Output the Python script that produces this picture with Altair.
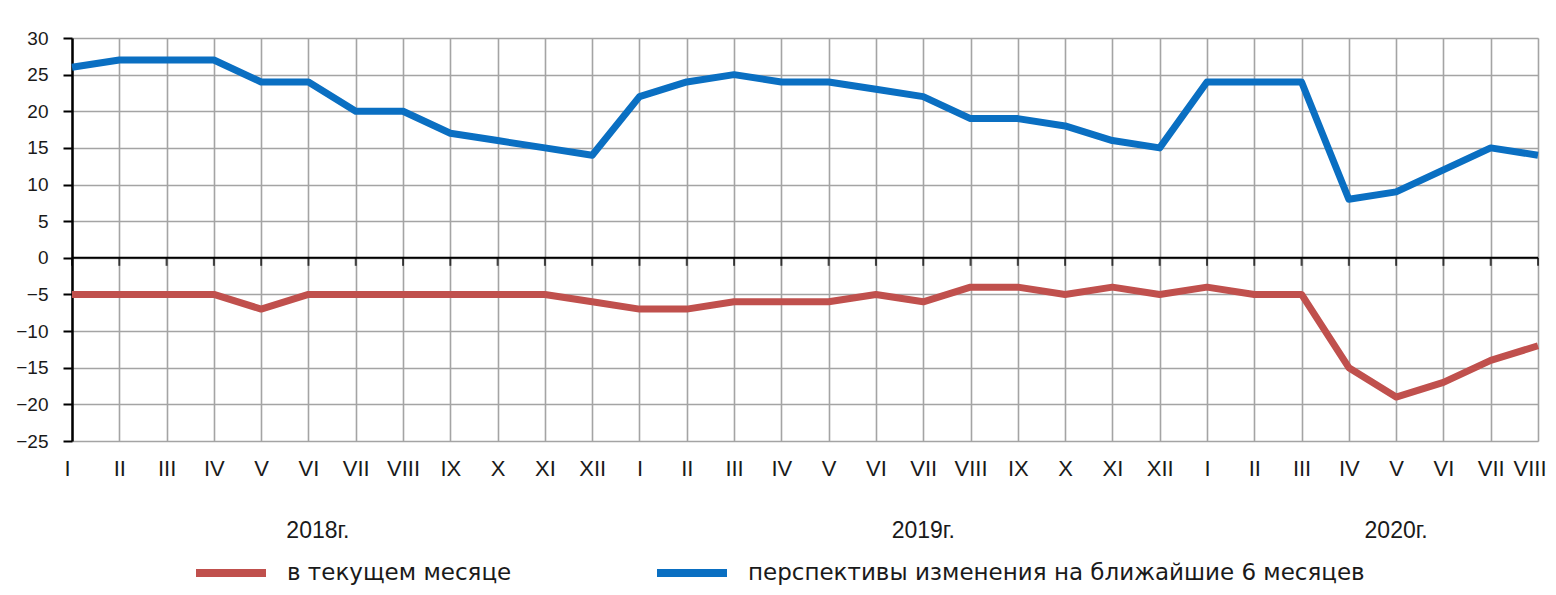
import altair as alt
import pandas as pd

# ---- data ----
month_labels = ["I", "II", "III", "IV", "V", "VI", "VII", "VIII", "IX", "X", "XI", "XII",
                "I", "II", "III", "IV", "V", "VI", "VII", "VIII", "IX", "X", "XI", "XII",
                "I", "II", "III", "IV", "V", "VI", "VII", "VIII"]
current_month = [-5, -5, -5, -5, -7, -5, -5, -5, -5, -5, -5, -6,
                 -7, -7, -6, -6, -6, -5, -6, -4, -4, -5, -4, -5,
                 -4, -5, -5, -15, -19, -17, -14, -12]
outlook_6m = [26, 27, 27, 27, 24, 24, 20, 20, 17, 16, 15, 14,
              22, 24, 25, 24, 24, 23, 22, 19, 19, 18, 16, 15,
              24, 24, 24, 8, 9, 12, 15, 14]
series_names = ["в текущем месяце", "перспективы изменения на ближайшие 6 месяцев"]
series_colors = ["#C0504D", "#0A6FC2"]
year_labels = ["2018г.", "2019г.", "2020г."]
year_label_pos = [5.2, 18.0, 28.0]
y_ticks = [-25, -20, -15, -10, -5, 0, 5, 10, 15, 20, 25, 30]

n = len(month_labels)
idx = list(range(n))
df = pd.DataFrame({
    "idx": idx * 2,
    "value": current_month + outlook_6m,
    "series": [series_names[0]] * n + [series_names[1]] * n,
})
years_df = pd.DataFrame({"pos": year_label_pos, "label": year_labels})
ticks_df = pd.DataFrame({"idx": idx, "zero": [0] * n})
zero_df = pd.DataFrame({"y": [0]})

W, H = 1466, 403
GRID = "#a4a4a4"
x_scale = alt.Scale(domain=[0, n - 1], nice=False, zero=False)
y_scale = alt.Scale(domain=[y_ticks[0], y_ticks[-1]], nice=False)

label_expr = "[" + ",".join("'" + m + "'" for m in month_labels) + "][datum.value]"

x_axis = alt.Axis(values=idx, labelExpr=label_expr, grid=True, gridColor=GRID, gridWidth=1.6,
                  domain=False, ticks=False, labelPadding=17, labelFontSize=22,
                  labelFont="Liberation Sans", labelColor="#1a1a1a", labelFlush=True,
                  labelFlushOffset=8, labelOverlap=False, labelBound=False, title=None)
y_axis = alt.Axis(values=y_ticks, grid=True, gridColor=GRID, gridWidth=1.6,
                  domain=True, domainColor="black", domainWidth=2.5,
                  ticks=True, tickColor="black", tickSize=9, tickWidth=2,
                  labelPadding=15, labelFontSize=19, labelFont="Liberation Sans",
                  labelColor="#1a1a1a", labelOverlap=False, title=None)

lines = alt.Chart(df).mark_line(strokeWidth=7, strokeJoin="round").encode(
    x=alt.X("idx:Q", scale=x_scale, axis=x_axis),
    y=alt.Y("value:Q", scale=y_scale, axis=y_axis),
    color=alt.Color("series:N",
                    scale=alt.Scale(domain=series_names, range=series_colors),
                    legend=alt.Legend(orient="none", legendX=120, legendY=496,
                                      direction="horizontal", title=None,
                                      symbolType="stroke", symbolSize=4900,
                                      symbolStrokeWidth=8, labelFontSize=23,
                                      labelFont="DejaVu Sans", labelColor="#1a1a1a",
                                      labelOffset=17, labelLimit=0,
                                      columnPadding=129, padding=0)),
)

zero_rule = alt.Chart(zero_df).mark_rule(color="black", strokeWidth=2).encode(
    y=alt.Y("y:Q", scale=y_scale, axis=y_axis)
)
zero_ticks = alt.Chart(ticks_df).mark_tick(orient="vertical", size=8, thickness=2,
                                           color="black", yOffset=4).encode(
    x=alt.X("idx:Q", scale=x_scale, axis=x_axis),
    y=alt.Y("zero:Q", scale=y_scale, axis=y_axis),
)
years = alt.Chart(years_df).mark_text(fontSize=23, font="Liberation Sans", color="#1a1a1a",
                                      baseline="middle", align="center").encode(
    x=alt.X("pos:Q", scale=x_scale, axis=x_axis),
    y=alt.value(H + 90),
    text="label:N",
)

chart = alt.layer(lines, zero_rule, zero_ticks, years).properties(
    width=W, height=H,
    autosize=alt.AutoSizeParams(type="none"),
    padding={"left": 64, "top": 30, "right": 10, "bottom": 146},
).configure_view(stroke=GRID, strokeWidth=1.6).configure(background="white")

chart.save("out.html", embed_options={"renderer": "svg", "actions": False})
